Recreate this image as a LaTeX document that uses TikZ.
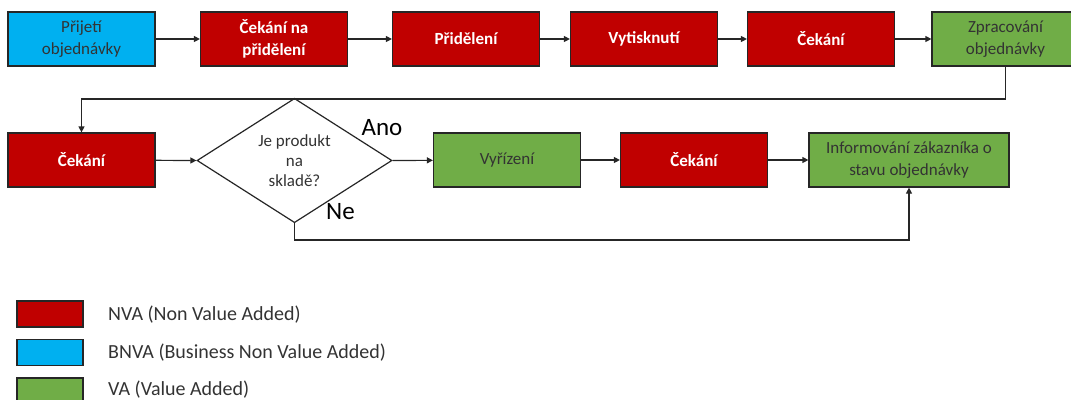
\documentclass[tikz,border=0pt]{standalone}
\usepackage{fontspec}
\setmainfont{Carlito}
\usetikzlibrary{arrows.meta,shapes.geometric}
\definecolor{nvared}{HTML}{C00000}
\definecolor{bnvablue}{HTML}{00B0F0}
\definecolor{vagreen}{HTML}{70AD47}
\definecolor{txtgray}{HTML}{333333}
\definecolor{edge}{HTML}{262626}
\begin{document}
\begin{tikzpicture}[x=1pt,y=-1pt,
  box/.style={draw=edge, line width=1.2pt, minimum width=147pt, minimum height=54pt,
    align=center, inner sep=2pt, font=\fontsize{17}{22}\selectfont},
  nva/.style={box, fill=nvared, text=white, font=\fontsize{17}{22}\selectfont\bfseries},
  bnva/.style={box, fill=bnvablue, text=txtgray},
  va/.style={box, fill=vagreen, text=txtgray},
  decision/.style={diamond, draw=edge, line width=1.2pt, fill=white, minimum width=195pt,
    minimum height=108pt, inner sep=0pt, align=center, text=txtgray,
    font=\fontsize{17}{20}\selectfont},
  conn/.style={draw=edge, line width=1.2pt},
  arr/.style={conn, -{Triangle[length=6pt,width=6pt]}},
  biglabel/.style={font=\fontsize{25}{30}\selectfont, text=black, inner sep=0pt},
  legbox/.style={draw=edge, line width=1.2pt, minimum width=66pt, minimum height=26pt, inner sep=0pt},
  legtext/.style={anchor=west, inner sep=0pt, text=txtgray, font=\fontsize{20}{24}\selectfont}
]
\useasboundingbox (0,0) rectangle (1071,399);
\clip (0,0) rectangle (1071,399);

% row 1
\node[bnva] (b1) at (81.5,39) {Přijetí\\objednávky};
\node[nva] (b2) at (274,39) {Čekání na\\přidělení};
\node[nva] (b3) at (466,39) {Přidělení};
\node[nva] (b4) at (644,39) {Vytisknutí};
\node[nva] (b5) at (821,39) {Čekání};
\node[va] (b6) at (1005.5,39) {Zpracování\\objednávky};

% row 2
\node[nva] (c1) at (81.5,160) {Čekání};
\node[decision] (d) at (294.5,160.5) {Je produkt\\na\\skladě?};
\node[va] (v) at (507,160) {Vyřízení};
\node[nva] (c2) at (694,160) {Čekání};
\node[va, minimum width=200pt] (inf) at (909,160) {Informování zákazníka o\\stavu objednávky};

\node[biglabel] (ano) at (382,128) {Ano};
\node[biglabel] (ne) at (340.5,212) {Ne};

\coordinate (turn) at (1005.5,99);
\coordinate (nedown) at (294.5,240);

% connectors
\draw[arr] (b1) -- (b2);
\draw[arr] (b2) -- (b3);
\draw[arr] (b3) -- (b4);
\draw[arr] (b4) -- (b5);
\draw[arr] (b5) -- (b6);
\draw[arr] (b6.south) -- (turn) -| (c1.north);
\draw[arr] (c1) -- (d.west);
\draw[arr] (d.east) -- (v);
\draw[arr] (v) -- (c2);
\draw[arr] (c2) -- (inf);
\draw[arr] (d.south) -- (nedown) -| (inf.south);

% legend
\node[legbox, fill=nvared] (l1) at (50,314) {};
\node[legbox, fill=bnvablue] (l2) at (50,352.5) {};
\node[legbox, fill=vagreen] (l3) at (50,391) {};
\node[legtext] (t1) at (108,315) {NVA (Non Value Added)};
\node[legtext] (t2) at (108,353) {BNVA (Business Non Value Added)};
\node[legtext] (t3) at (108,390) {VA (Value Added)};
\end{tikzpicture}
\end{document}
